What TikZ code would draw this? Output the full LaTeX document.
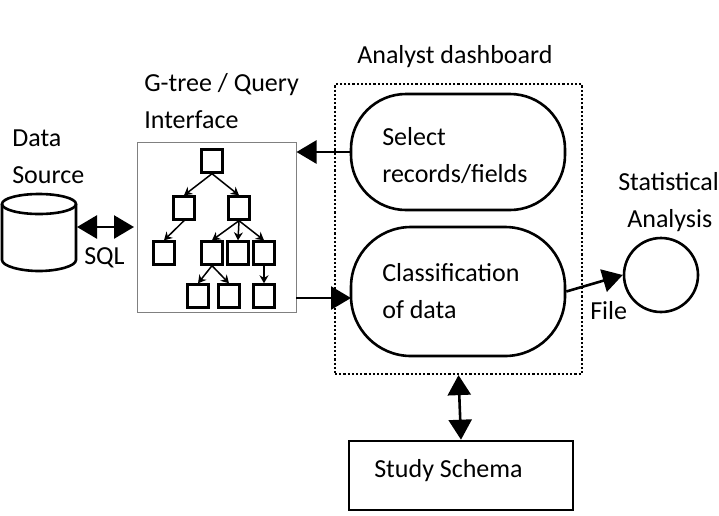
\documentclass[tikz,border=0pt]{standalone}
\usepackage{fontspec}
\setmainfont{Carlito}
\usetikzlibrary{arrows.meta}

\begin{document}
\begin{tikzpicture}[x=1pt,y=-1pt,semithick,
                    font=\fontsize{26}{37}\selectfont]
  \tikzstyle{leaf}=[draw,line width=2.4pt,minimum width=21pt,minimum height=23pt,inner sep=0pt]
  \tikzstyle{panel}=[draw,line width=2.6pt,minimum width=214pt,inner sep=0pt]
  \tikzstyle{txt}=[anchor=west,align=left,inner sep=0pt]
  \tikzstyle{big}=[line width=2.6pt,-{Triangle[length=20pt,width=23pt]}]
  \tikzstyle{bigboth}=[line width=2.6pt,{Triangle[length=20pt,width=23pt]}-{Triangle[length=20pt,width=23pt]}]
  \tikzstyle{twig}=[line width=1.5pt,-{Stealth[length=8pt,width=9pt]}]
  \useasboundingbox (0,0) rectangle (719,515);

  \node[draw,gray,line width=1pt,minimum width=159pt,minimum height=170pt,inner sep=0pt] (gtree) at (216.5,227.5) {};
  \node[draw,dotted,line width=2.2pt,minimum width=247pt,minimum height=290pt,inner sep=0pt] (dash) at (458.5,229) {};

  % data source
  \draw[line width=2.6pt] (39,204) ellipse [x radius=37pt,y radius=10pt];
  \draw[line width=2.6pt] (2,204) -- (2,260) .. controls (2,266) and (20,271) .. (39,271)
        .. controls (58,271) and (76,266) .. (76,260) -- (76,204);

  \node[leaf] (t1) at (212,161) {};
  \node[leaf] (t2) at (184,208) {};
  \node[leaf] (t3) at (239,208) {};
  \node[leaf] (t4) at (164,253) {};
  \node[leaf] (t5) at (212,253) {};
  \node[leaf] (t6) at (238,253) {};
  \node[leaf] (t7) at (264,253) {};
  \node[leaf] (t8) at (198,296) {};
  \node[leaf] (t9) at (229,296) {};
  \node[leaf] (t10) at (264,296) {};

  \node[panel,rounded corners=55pt,minimum height=116pt] (select) at (458,152) {};
  \node[panel,rounded corners=60pt,minimum height=129pt] (class) at (458,291.5) {};
  \node[draw,line width=2.6pt,minimum width=224pt,minimum height=69pt,inner sep=0pt] (study) at (461,475.5) {};
  \node[circle,draw,line width=2.6pt,minimum size=74pt,inner sep=0pt] (stat) at (661,275) {};

  \coordinate (dbport) at (77,227);
  \coordinate (gport) at (134,227);
  \coordinate (gout) at (296,298);
  \coordinate (cin) at (351,298);

  \node[txt] (lanalyst) at (357,57) {Analyst dashboard};
  \node[txt] (lgtree) at (144,101) {G-tree / Query\\Interface};
  \node[txt] (ldata) at (12,157) {Data\\Source};
  \node[txt] (lsql) at (84,258) {SQL};
  \node[txt] (lselect) at (382,156) {Select\\records/fields};
  \node[txt] (lclass) at (382,291) {Classification\\of data};
  \node[txt] (lstat) at (618,202) {Statistical\\\hspace*{9pt}Analysis};
  \node[txt] (lfile) at (590,311) {File};
  \node[txt] (lstudy) at (374,471) {Study Schema};

  \path[twig] (t1.south) edge (t2.north)
              (t1.south) edge (t3.north)
              (t2.south) edge (t4.north)
              (t3.south) edge (t5.north)
              (t3.south) edge (t6.north)
              (t3.south) edge (t7.north)
              (t5.south) edge (t8.north)
              (t5.south) edge (t9.north)
              (t7.south) edge (t10.north);

  \draw[bigboth] (dbport) -- (gport);
  \draw[big] (select.west) -- (gtree.east |- select.west);
  \draw[big] (gout) -- (cin);
  \draw[big] (class.east) -- (stat.west);
  \draw[bigboth] (dash.south) -- (study.north);
\end{tikzpicture}
\end{document}
